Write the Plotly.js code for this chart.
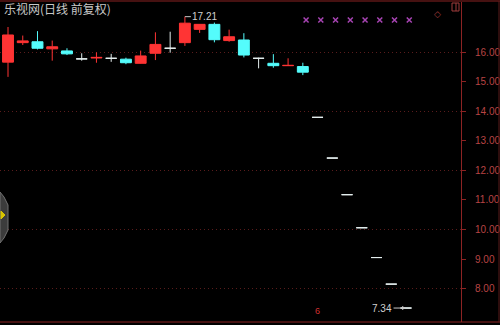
<!DOCTYPE html>
<html><head><meta charset="utf-8">
<script src="https://cdn.plot.ly/plotly-3.0.1.min.js"></script>
<style>html,body{margin:0;padding:0;background:#000;}#chart{width:500px;height:325px;}</style>
</head><body><div id="chart"></div>
<script>
// ---- data ----
const chartTitle = '乐视网(日线 前复权)';
const dayIndex = [0,1,2,3,4,5,6,7,8,9,10,11,12,13,14,15,16,17,18,19,20,21,22,23,24,25,26,27];
const openP  = [15.67,16.33,16.36,16.12,16.05,15.78,15.81,15.80,15.77,15.63,15.97,16.14,16.33,16.78,16.95,16.40,16.42,15.80,15.63,15.55,15.52,13.80,12.42,11.18,10.06,9.05,8.15,7.34];
const highP  = [16.86,16.57,16.72,16.40,16.14,15.97,16.00,15.95,15.82,16.06,16.68,16.70,17.21,16.96,17.01,16.77,16.65,15.82,15.94,15.80,15.65,13.80,12.42,11.18,10.06,9.05,8.15,7.34];
const lowP   = [15.17,16.25,16.10,15.72,15.91,15.72,15.65,15.68,15.60,15.62,15.74,15.99,16.22,16.66,16.34,16.36,15.83,15.46,15.48,15.55,15.23,13.80,12.42,11.18,10.06,9.05,8.15,7.34];
const closeP = [16.59,16.39,16.14,16.19,15.95,15.78,15.83,15.80,15.65,15.88,16.27,16.14,16.99,16.95,16.43,16.53,15.91,15.80,15.55,15.56,15.33,13.80,12.42,11.18,10.06,9.05,8.15,7.34];
const candleKind = ['up','up','down','up','down','flat','up','flat','down','up','up','flat','up','up','down','up','down','flat','down','up','down','flat','flat','flat','flat','flat','flat','flat'];
const yTickVals = [8,9,10,11,12,13,14,15,16];
const gridVals = [8,10,12,14,16];
const signalIdx = [20,21,22,23,24,25,26,27];
const signalLevel = 17.10;
const markerLabel = '6';

// ---- styles ----
const kindColor = {up:'#ff3434', down:'#54fcfc', flat:'#e4eeee'};
const yRange = [6.867, 17.707];
const xRange = [-0.543, 30.73];
const PW = 461, PT = 2, PB = 322;
const px = x => x / PW;
const py = y => (PB - y) / (PB - PT);

function candleTrace(kind){
  const sel = dayIndex.filter(i => candleKind[i] === kind);
  const c = kindColor[kind];
  return {
    type:'candlestick', name:kind,
    x: sel, open: sel.map(i=>openP[i]), high: sel.map(i=>highP[i]),
    low: sel.map(i=>lowP[i]), close: sel.map(i=>closeP[i]),
    increasing:{line:{color:c, width:1}, fillcolor:c},
    decreasing:{line:{color:c, width:1}, fillcolor:c},
    whiskerwidth:0, hoverinfo:'skip', showlegend:false
  };
}

const traces = [candleTrace('up'), candleTrace('down'), candleTrace('flat'), {
  type:'scatter', mode:'markers', yaxis:'y2',
  x: signalIdx.map(i => i + 0.22), y: signalIdx.map(() => signalLevel),
  marker:{symbol:'x-thin', size:5, color:'#a844b4', line:{color:'#a844b4', width:1.5}},
  hoverinfo:'skip', showlegend:false
}];

let hiIdx = 0, loIdx = 0;
highP.forEach((v,i)=>{ if(v > highP[hiIdx]) hiIdx = i; });
lowP.forEach((v,i)=>{ if(v < lowP[loIdx]) loIdx = i; });

const red = '#8c2323';
const layout = {
  width:500, height:325,
  margin:{l:0, r:500-PW, t:PT, b:325-PB, pad:0},
  paper_bgcolor:'#000', plot_bgcolor:'#000',
  showlegend:false, boxgap:0.26, boxgroupgap:0,
  font:{family:'Liberation Sans, Arial, sans-serif', color:'#c8c8c8'},
  xaxis:{range:xRange, showticklabels:false, showgrid:false, zeroline:false, showline:false, ticks:'', rangeslider:{visible:false}, fixedrange:true},
  yaxis:{range:yRange, side:'right', tickvals:yTickVals, ticktext:yTickVals.map(v=>v.toFixed(2)),
    showgrid:false, zeroline:false, showline:true, linecolor:red, linewidth:1,
    ticks:'outside', ticklen:4, tickcolor:red, ticklabelstandoff:7,
    tickfont:{family:'Liberation Sans, Arial', size:10, color:'#b84444'}, fixedrange:true},
  yaxis2:{range:yRange, overlaying:'y', side:'left', tickvals:gridVals, showticklabels:false,
    showgrid:true, gridcolor:'#5a1c1c', griddash:'1px,3px', gridwidth:1, zeroline:false, showline:false, ticks:'', fixedrange:true},
  shapes:[
    {type:'line', xref:'paper', yref:'paper', x0:0, x1:px(500), y0:py(1), y1:py(1), line:{color:red, width:1}},
    {type:'line', xref:'paper', yref:'paper', x0:0, x1:px(500), y0:py(322), y1:py(322), line:{color:red, width:1}},
    {type:'line', xref:'paper', yref:'paper', x0:px(499), x1:px(499), y0:py(1), y1:py(322), line:{color:'#5a1a1a', width:1}},
    {type:'path', xref:'paper', yref:'paper', path:`M0,${py(192)} L${px(4)},${py(197)} L${px(8)},${py(205)} L${px(8)},${py(230)} L${px(4)},${py(238)} L0,${py(243)} Z`, fillcolor:'#3c3c3c', line:{color:'#707070', width:1}},
    {type:'path', xref:'paper', yref:'paper', path:`M${px(1)},${py(211)} L${px(5)},${py(215)} L${px(1)},${py(219)} Z`, fillcolor:'#d8c400', line:{color:'#d8c400', width:1}},
    {type:'rect', xref:'paper', yref:'paper', x0:px(452), x1:px(459), y0:py(11), y1:py(3), line:{color:'#a03c3c', width:1}},
    {type:'line', xref:'paper', yref:'paper', x0:px(456), x1:px(456), y0:py(11), y1:py(3), line:{color:'#a03c3c', width:1}}
  ],
  annotations:[
    {xref:'paper', yref:'paper', x:px(2), y:py(8), xanchor:'left', yanchor:'middle', showarrow:false,
     text:chartTitle, font:{family:'Noto Sans CJK SC', size:12, color:'#c8c8c8'}},
    {x:hiIdx, y:highP[hiIdx], text:highP[hiIdx].toFixed(2), showarrow:true, ax:20, ay:0, arrowhead:0, arrowwidth:1,
     arrowcolor:'#c8c8c8', font:{size:10, color:'#d0d0d0'}},
    {x:loIdx, y:lowP[loIdx], text:lowP[loIdx].toFixed(2), showarrow:true, ax:-24, ay:0, arrowhead:2, arrowsize:0.8, arrowwidth:1,
     arrowcolor:'#c8c8c8', font:{size:10, color:'#d0d0d0'}},
    {x:21, yref:'paper', y:py(318), text:markerLabel, showarrow:false, font:{size:9, color:'#d03030'}},
    {xref:'paper', yref:'paper', x:px(443), y:py(7), text:'◇', showarrow:false, font:{family:'DejaVu Sans', size:9, color:'#a03c3c'}}
  ]
};

Plotly.newPlot('chart', traces, layout, {displayModeBar:false, staticPlot:true});
</script></body></html>
